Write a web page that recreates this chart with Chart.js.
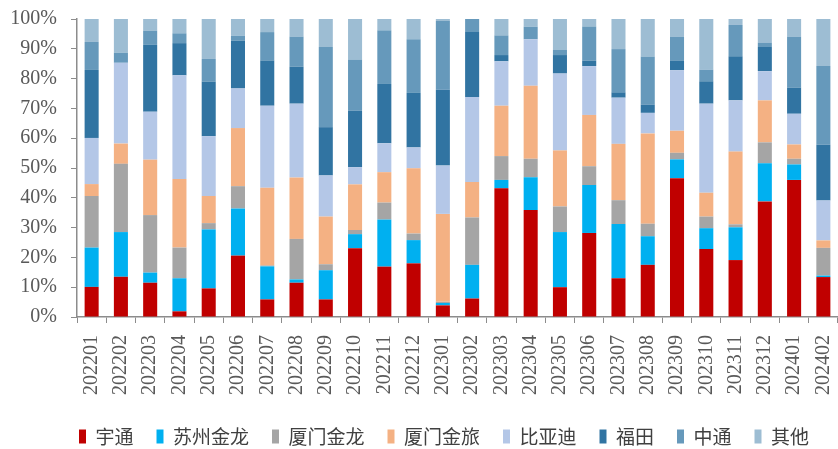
<!DOCTYPE html>
<html lang="zh">
<head>
  <meta charset="utf-8"/>
  <title>客车品牌份额</title>
  <script src="https://cdn.jsdelivr.net/npm/chart.js"></script>
  <style>
    body { margin: 0; background: #fff; }
    #chart { width: 838px; height: 449px; }
  </style>
</head>
<body>
  <div id="chart">
    <canvas id="my_chart" width="838" height="449"></canvas>
  </div>

<script>
var months = ['202201','202202','202203','202204','202205','202206','202207','202208','202209','202210',
  '202211','202212','202301','202302','202303','202304','202305','202306','202307','202308',
  '202309','202310','202311','202312','202401','202402'];

var seriesNames = ['宇通', '苏州金龙', '厦门金龙', '厦门金旅', '比亚迪', '福田', '中通', '其他'];

// share of each brand, % per month
var yutong   = [10.1,13.5,11.5, 1.9, 9.6,20.6, 5.9,11.5, 5.9,23.1,16.9,18.0, 3.9, 6.2,43.2,35.9,10.0,28.2,13.0,17.5,46.6,22.8,19.1,38.8,46.0,13.4];
var suzhou   = [13.2,15.0, 3.4,11.1,19.8,15.8,11.1, 1.1, 9.8, 4.7,15.8, 7.8, 0.8,11.3, 2.8,11.0,18.5,16.1,18.2, 9.6, 6.3, 7.0,11.0,12.8, 5.2, 0.5];
var xmKinglong = [17.3,22.9,19.3,10.3, 2.1, 7.5, 0.3,13.6, 2.0, 1.4, 5.7, 2.2, 0.4,15.9, 8.0, 6.2, 8.6, 6.3, 8.0, 4.2, 2.2, 3.9, 1.0, 7.0, 1.9, 9.3];
var xmKinglv = [ 4.0, 6.8,18.6,23.0, 9.1,19.5,26.1,20.6,16.0,15.3,10.2,21.9,29.5,11.9,16.9,24.5,18.8,17.2,18.9,30.3, 7.4, 8.0,24.4,14.1, 4.8, 2.5];
var byd      = [15.5,27.1,16.1,34.8,20.1,13.3,27.5,24.8,13.8, 5.8, 9.7, 7.0,16.2,28.5,14.9,15.6,25.8,16.4,15.5, 6.9,20.3,29.9,17.2, 9.8,10.3,13.4];
var foton    = [22.8, 0.0,22.4,10.8,18.3,16.0,15.2,12.4,16.2,18.9,19.9,18.3,25.5,21.8, 2.1, 0.0, 6.2, 1.8, 1.8, 2.8, 3.3, 7.5,14.8, 8.1, 8.8,18.7];
var zhongtong = [9.4, 3.4, 4.8, 3.3, 7.6, 1.7, 9.5,10.1,26.9,17.2,18.0,18.0,23.0, 4.4, 6.6, 4.2, 1.7,11.5,14.5,16.1, 8.0, 3.9,10.5, 1.5,17.1,26.4];
var others   = [ 7.7,11.3, 3.9, 4.8,13.4, 5.6, 4.4, 5.9, 9.4,13.6, 3.8, 6.8, 0.7, 0.0, 5.5, 2.6,10.4, 2.5,10.1,12.6, 5.9,17.0, 2.0, 7.9, 5.9,15.8];

var yTicks = [0,10,20,30,40,50,60,70,80,90,100];

const COLORS = ['#C00000','#00B0F0','#A5A5A5','#F4B183','#B4C7E7','#3174A2','#6699BB','#9DBDD3'];

function buildDatasets () {
  var rows = [yutong, suzhou, xmKinglong, xmKinglv, byd, foton, zhongtong, others];
  return rows.map((row, i) => ({
    label: seriesNames[i],
    data: row,
    backgroundColor: COLORS[i],
    borderWidth: 0,
    barPercentage: 0.48,
    categoryPercentage: 1.0
  }));
}

// legend sits a little right of the canvas centre in the original
const shiftLegend = {
  id: 'shiftLegend',
  afterLayout (chart) {
    chart.legend.left += 25;
    chart.legend.right += 25;
  }
};

window.onload = function () {
  const config = {
    type: 'bar',
    data: { labels: months, datasets: buildDatasets() },
    plugins: [shiftLegend],
    options: {
      responsive: false,
      animation: false,
      layout: { padding: { top: 19, right: 0, left: 0, bottom: -7 } },
      plugins: {
        tooltip: { enabled: false },
        legend: {
          position: 'bottom',
          labels: {
            boxWidth: 7,
            boxHeight: 14,
            padding: 23,
            color: '#404040',
            font: { family: '"Noto Sans CJK SC"', size: 19 }
          }
        }
      },
      scales: {
        x: {
          stacked: true,
          grid: { display: true, drawOnChartArea: false, tickLength: 6, color: '#8c8c8c', offset: true },
          border: { color: '#8c8c8c', width: 1.5 },
          ticks: {
            maxRotation: 90, minRotation: 90, autoSkip: false,
            color: '#595959',
            padding: 12,
            font: { family: '"Liberation Serif"', size: 20 }
          },
          afterFit: s => { s.height = 87; s.paddingLeft = 0; s.paddingRight = 0; }
        },
        y: {
          stacked: true,
          min: 0, max: 100,
          afterBuildTicks: s => { s.ticks = yTicks.map(v => ({ value: v })); },
          grid: { display: true, drawOnChartArea: false, tickLength: 6, color: '#8c8c8c' },
          border: { color: '#8c8c8c', width: 1.5 },
          ticks: {
            color: '#595959',
            padding: 14,
            font: { family: '"Liberation Serif"', size: 20 },
            callback: v => v + '%'
          },
          afterFit: s => { s.width = 77; s.paddingTop = 0; s.paddingBottom = 0; }
        }
      }
    }
  };

  const ctx = document.getElementById('my_chart').getContext('2d');
  new Chart(ctx, config);
};
</script>
</body>
</html>
